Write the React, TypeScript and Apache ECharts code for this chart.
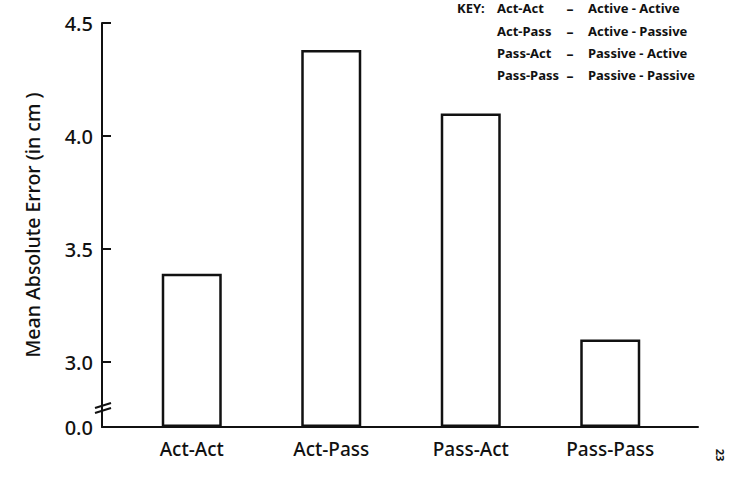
import React, { useEffect, useRef } from "react";
import * as echarts from "echarts";

const categories = ["Act-Act", "Act-Pass", "Pass-Act", "Pass-Pass"];
const meanErrors = [3.39, 4.38, 4.1, 3.1];
const yTicks = [0, 3.0, 3.5, 4.0, 4.5];
const keyShort = ["Act-Act", "Act-Pass", "Pass-Act", "Pass-Pass"];
const keyLong = ["Active - Active", "Active - Passive", "Passive - Active", "Passive - Passive"];

const FONT = "'Noto Sans', 'DejaVu Sans', sans-serif";

// axis break: 0.0 .. 3.0 collapsed into a short gap
const BREAK_START = 0;
const BREAK_END = 3;
const BREAK_GAP = 0.2876;
const Y_MAX = 4.5;

export default function App() {
  const ref = useRef<HTMLDivElement>(null);
  useEffect(() => {
    if (!ref.current) return;
    const chart = echarts.init(ref.current, undefined, { renderer: "svg" });

    const yBase = {
      type: "value",
      min: 0,
      max: Y_MAX,
      interval: 0.5,
      breaks: [{ start: BREAK_START, end: BREAK_END, gap: BREAK_GAP }],
      breakArea: { show: false },
    };

    const helperMin = -(BREAK_GAP / 0.5);
    const helperMax = (Y_MAX - BREAK_END) / 0.5;

    const keyTexts: any[] = [];
    const rowY = [8, 31, 53, 75];
    keyShort.forEach((s, i) => {
      keyTexts.push({
        type: "text", x: 497, y: rowY[i],
        style: { text: s, font: `bold 13px ${FONT}`, fill: "#111", textVerticalAlign: "middle" },
      });
      keyTexts.push({
        type: "text", x: 570, y: rowY[i],
        style: { text: "\u2013", font: `bold 14px ${FONT}`, fill: "#111", textAlign: "center", textVerticalAlign: "middle" },
      });
      keyTexts.push({
        type: "text", x: 588, y: rowY[i],
        style: { text: keyLong[i], font: `bold 13px ${FONT}`, fill: "#111", textVerticalAlign: "middle" },
      });
    });
    keyTexts.push({
      type: "text", x: 457, y: rowY[0],
      style: { text: "KEY:", font: `bold 13px ${FONT}`, fill: "#111", textVerticalAlign: "middle" },
    });

    const tickData = yTicks.filter((t) => t >= BREAK_END).map((t) => [0, t]);

    chart.setOption({
      animation: false,
      backgroundColor: "#fff",
      grid: [
        { left: 122, width: 558, top: 23, bottom: 52 },
        { left: 102, right: 39, top: 23, bottom: 52 },
      ],
      xAxis: [
        {
          type: "category",
          gridIndex: 0,
          data: categories,
          axisLine: { show: false },
          axisTick: { show: false },
          axisLabel: { margin: 12, fontSize: 19, color: "#111", fontFamily: FONT, fontWeight: 500 },
        },
        {
          type: "value",
          gridIndex: 1,
          min: 0,
          max: 1,
          axisLine: { show: true, onZero: false, lineStyle: { color: "#111", width: 2 } },
          axisTick: { show: false },
          axisLabel: { show: false },
          splitLine: { show: false },
        },
      ],
      yAxis: [
        { ...yBase, gridIndex: 0, show: false },
        {
          ...yBase,
          gridIndex: 1,
          name: "Mean Absolute Error (in cm )",
          nameLocation: "middle",
          nameGap: 60,
          nameTextStyle: { fontSize: 19.5, color: "#111", fontFamily: FONT, fontWeight: 500 },
          axisLine: { show: false },
          axisTick: { show: false },
          axisLabel: {
            margin: 9,
            fontSize: 20,
            color: "#111",
            fontFamily: FONT,
            fontWeight: 500,
            formatter: (v: number) => (yTicks.some((t) => Math.abs(t - v) < 1e-6) ? v.toFixed(1) : ""),
          },
          splitLine: { show: false },
        },
        {
          type: "value",
          gridIndex: 1,
          position: "left",
          min: helperMin,
          max: helperMax,
          axisLine: { show: true, onZero: false, lineStyle: { color: "#111", width: 2 } },
          axisTick: { show: false },
          axisLabel: { show: false },
          splitLine: { show: false },
        },
      ],
      series: [
        {
          type: "bar",
          xAxisIndex: 0,
          yAxisIndex: 0,
          data: meanErrors,
          barWidth: 60,
          itemStyle: { color: "#fff", borderColor: "#111", borderWidth: 2.5 },
        },
        {
          type: "custom",
          xAxisIndex: 1,
          yAxisIndex: 1,
          data: tickData,
          clip: false,
          silent: true,
          renderItem: (params: any, api: any) => {
            const p = api.coord([api.value(0), api.value(1)]);
            return {
              type: "line",
              shape: { x1: p[0], y1: p[1], x2: p[0] + 9, y2: p[1] },
              style: { stroke: "#111", lineWidth: 2 },
            };
          },
        },
      ],
      graphic: [
        ...keyTexts,
        { type: "line", shape: { x1: 95, y1: 408, x2: 111, y2: 403 }, style: { stroke: "#111", lineWidth: 2 } },
        { type: "line", shape: { x1: 95, y1: 413, x2: 111, y2: 408 }, style: { stroke: "#111", lineWidth: 2 } },
        {
          type: "text", x: 720, y: 455, rotation: -Math.PI / 2,
          style: { text: "23", font: `bold 11px ${FONT}`, fill: "#111", textAlign: "center", textVerticalAlign: "middle" },
        },
      ],
    });
    return () => chart.dispose();
  }, []);
  return <div ref={ref} style={{ width: 737, height: 479, position: "absolute", left: 0, top: 0 }} />;
}
